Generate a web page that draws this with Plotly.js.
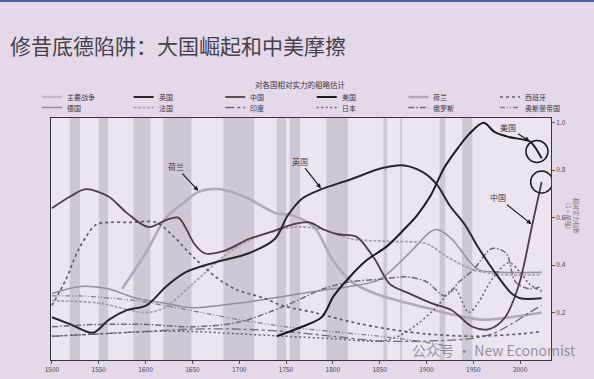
<!DOCTYPE html>
<html><head><meta charset="utf-8">
<script src="https://cdn.plot.ly/plotly-3.0.1.min.js"></script>
<style>html,body{margin:0;padding:0;background:#e3d9e9;}#chart{width:594px;height:379px;}</style>
</head><body><div id="chart"></div>
<script>
// ---------- data ----------
const ukYears   = [1500,1520,1544,1561,1580,1601,1622,1643,1673,1710,1738,1752,1767,1788,1818,1854,1876,1897,1911,1925,1941,1956,1973,1991,2000,2023];
const ukValues  = [0.18,0.15,0.115,0.17,0.21,0.23,0.31,0.37,0.41,0.45,0.51,0.61,0.68,0.72,0.76,0.81,0.82,0.79,0.74,0.65,0.57,0.47,0.37,0.28,0.26,0.26];

const cnYears   = [1500,1520,1536,1560,1580,1603,1622,1635,1652,1663,1684,1710,1734,1756,1775,1790,1805,1825,1844,1861,1882,1905,1927,1949,1967,1984,1999,2013,2023];
const cnValues  = [0.64,0.69,0.72,0.69,0.62,0.56,0.59,0.60,0.49,0.45,0.46,0.51,0.54,0.57,0.58,0.55,0.53,0.52,0.43,0.32,0.28,0.24,0.21,0.14,0.13,0.18,0.32,0.57,0.75];

const usYears   = [1740,1767,1788,1801,1818,1836,1858,1876,1890,1904,1919,1933,1945,1961,1973,1988,2002,2011,2023];
const usValues  = [0.10,0.14,0.18,0.27,0.35,0.42,0.48,0.55,0.61,0.69,0.81,0.89,0.95,1.00,0.96,0.94,0.93,0.92,0.85];

const nlYears   = [1575,1600,1622,1643,1657,1680,1710,1738,1756,1780,1800,1820,1845,1870,1900,1930,1960,1990,2023];
const nlValues  = [0.30,0.45,0.60,0.67,0.71,0.72,0.68,0.62,0.61,0.56,0.42,0.33,0.28,0.25,0.22,0.19,0.17,0.18,0.20];

const esYears   = [1500,1515,1529,1547,1561,1582,1611,1630,1652,1675,1695,1727,1745,1780,1820,1860,1900,1950,2000,2023];
const esValues  = [0.23,0.34,0.47,0.57,0.58,0.58,0.58,0.52,0.43,0.35,0.30,0.26,0.23,0.20,0.16,0.13,0.11,0.10,0.11,0.12];

const deYears   = [1500,1530,1560,1590,1620,1650,1700,1750,1800,1818,1850,1879,1904,1911,1927,1945,1956,1980,2023];
const deValues  = [0.28,0.31,0.30,0.26,0.24,0.22,0.24,0.27,0.30,0.31,0.34,0.44,0.54,0.55,0.51,0.42,0.38,0.37,0.37];

const frYears   = [1500,1550,1600,1620,1650,1688,1720,1760,1790,1820,1860,1900,1920,1950,1980,2023];
const frValues  = [0.25,0.24,0.20,0.22,0.32,0.45,0.52,0.56,0.55,0.51,0.50,0.49,0.44,0.38,0.36,0.36];

const inYears   = [1500,1550,1600,1650,1700,1750,1800,1850,1900,1947,1970,1990,2010,2023];
const inValues  = [0.10,0.11,0.12,0.13,0.13,0.12,0.10,0.08,0.08,0.09,0.11,0.15,0.20,0.23];

const jpYears   = [1500,1550,1600,1650,1700,1750,1800,1850,1870,1890,1910,1930,1945,1955,1970,1988,2000,2010,2023];
const jpValues  = [0.10,0.11,0.12,0.12,0.11,0.10,0.09,0.08,0.10,0.15,0.22,0.30,0.20,0.24,0.34,0.41,0.37,0.32,0.29];

const ruYears   = [1500,1550,1600,1650,1700,1750,1790,1820,1850,1880,1900,1920,1935,1950,1970,1985,1995,2010,2023];
const ruValues  = [0.14,0.15,0.15,0.14,0.16,0.23,0.30,0.33,0.34,0.35,0.33,0.27,0.33,0.38,0.47,0.45,0.33,0.30,0.31];

const otYears   = [1500,1530,1565,1590,1620,1660,1700,1750,1800,1850,1890,1922];
const otValues  = [0.27,0.27,0.26,0.25,0.23,0.20,0.17,0.14,0.12,0.10,0.08,0.06];

const warStart  = [1519,1550,1587,1619,1683,1740,1754,1793,1854,1872,1914,1938];
const warEnd    = [1530,1560,1605,1649,1716,1750,1765,1816,1858,1874,1920,1949];

const xTickYears  = [1500,1550,1600,1650,1700,1750,1800,1850,1900,1950,2000];
const yTickValues = [0.2,0.4,0.6,0.8,1.0];
const yTickLabels = ['0.2','0.4','0.6','0.8','1.0'];

const legendNames = ['主要战争','英国','中国','美国','荷兰','西班牙','德国','法国','印度','日本','俄罗斯','奥斯曼帝国'];

// ---------- styles ----------
const styles = {
  '主要战争': {color:'#c3bac8', width:5, dash:'solid'},
  '英国':   {color:'#2a2630', width:2.0, dash:'solid'},
  '中国':   {color:'#4d3c49', width:1.8, dash:'solid'},
  '美国':   {color:'#1d1a23', width:2.0, dash:'solid'},
  '荷兰':   {color:'#b2aab8', width:2.6, dash:'solid'},
  '西班牙': {color:'#625b68', width:1.7, dash:'dot'},
  '德国':   {color:'#958d9b', width:1.5, dash:'solid'},
  '法国':   {color:'#a59dab', width:1.7, dash:'3px,1.5px'},
  '印度':   {color:'#6f6875', width:1.3, dash:'dashdot'},
  '日本':   {color:'#676070', width:1.5, dash:'2px,2.5px'},
  '俄罗斯': {color:'#6f6875', width:1.5, dash:'6px,2px,1.5px,2px'},
  '奥斯曼帝国': {color:'#857e8b', width:1.3, dash:'5px,2px,1px,2px,1px,2px'}
};

const series = [
  {name:'英国', x:ukYears, y:ukValues},
  {name:'中国', x:cnYears, y:cnValues},
  {name:'美国', x:usYears, y:usValues},
  {name:'荷兰', x:nlYears, y:nlValues},
  {name:'西班牙', x:esYears, y:esValues},
  {name:'德国', x:deYears, y:deValues},
  {name:'法国', x:frYears, y:frValues},
  {name:'印度', x:inYears, y:inValues},
  {name:'日本', x:jpYears, y:jpValues},
  {name:'俄罗斯', x:ruYears, y:ruValues},
  {name:'奥斯曼帝国', x:otYears, y:otValues}
];

// draw order: light first, dark on top
const drawOrder = ['荷兰','德国','法国','奥斯曼帝国','印度','日本','俄罗斯','西班牙','中国','英国','美国'];
const traces = drawOrder.map(n => {
  const s = series.find(t => t.name === n);
  const st = styles[n];
  return {type:'scatter', mode:'lines', name:n, x:s.x, y:s.y,
          line:{color:st.color, width:st.width, dash:st.dash, shape:'spline', smoothing:0.9},
          hoverinfo:'skip', showlegend:false};
});

// ---------- geometry helpers (layout only) ----------
const W = 594, H = 379, M = {l:51, r:43, t:118, b:19};
const PW = W - M.l - M.r, PH = H - M.t - M.b;
const px2x = p => (p - M.l) / PW;
const py2y = p => (H - M.b - p) / PH;

const shapes = [];
// war bands
warStart.forEach((s, i) => {
  shapes.push({type:'rect', xref:'x', yref:'paper', x0:s, x1:warEnd[i], y0:0, y1:1,
               fillcolor:'rgba(150,140,158,0.33)', line:{width:0}, layer:'below'});
});
// top blue line of the slide
shapes.push({type:'rect', xref:'paper', yref:'paper', x0:px2x(0), x1:px2x(W), y0:py2y(0), y1:py2y(2),
             fillcolor:'#4a5fa6', line:{width:0}});

const annotations = [];
// custom legend (2 rows x 6 columns)
legendNames.forEach((n, i) => {
  const col = i % 6, row = Math.floor(i / 6);
  const sx = 42 + col * 91.6, sy = 97 + row * 10.5;
  const st = styles[n];
  shapes.push({type:'line', xref:'paper', yref:'paper', x0:px2x(sx), x1:px2x(sx + 20),
               y0:py2y(sy), y1:py2y(sy), line:{color:st.color, width:Math.min(st.width, 2.5), dash:st.dash}});
  annotations.push({xref:'paper', yref:'paper', x:px2x(sx + 23), y:py2y(sy), xanchor:'left', yanchor:'middle',
                    text:n, showarrow:false, font:{size:7, color:'#3a3540'}});
});

// circles at the ends of US and China
const usN = usYears.length, cnN = cnYears.length;
const usCx = (usYears[usN-1] + usYears[usN-2]) / 2 + 1;
const usCy = usValues[usN-2] + (usValues[usN-1] - usValues[usN-2]) * (usCx - usYears[usN-2]) / (usYears[usN-1] - usYears[usN-2]);
[[usCx, usCy],[cnYears[cnN-1], cnValues[cnN-1]]].forEach(c => {
  shapes.push({type:'circle', xref:'x', yref:'y', xsizemode:'pixel', ysizemode:'pixel',
               xanchor:c[0], yanchor:c[1], x0:-11, x1:11, y0:-11, y1:11,
               line:{color:'#1d1a23', width:1.5}});
});

// labelled arrows
function arrowLabel(text, xs, ys, idx, ax, ay) {
  annotations.push({x:xs[idx], y:ys[idx], xref:'x', yref:'y', text:text, showarrow:true,
                    arrowhead:2, arrowsize:0.8, arrowwidth:1.2, arrowcolor:'#1d1a23',
                    ax:ax, ay:ay, standoff:1, font:{size:8, color:'#3a3540'}});
}
arrowLabel('荷兰', nlYears, nlValues, 4, -23, -25);
arrowLabel('英国', ukYears, ukValues, 13, -22, -28);
arrowLabel('美国', usYears, usValues, 17, -22, -14);
arrowLabel('中国', cnYears, cnValues, 27, -34, -27);

// slide title, chart title, axis caption, watermark
annotations.push({xref:'paper', yref:'paper', x:px2x(8), y:py2y(45), xanchor:'left', yanchor:'middle',
                  text:'修昔底德陷阱：大国崛起和中美摩擦', showarrow:false,
                  font:{size:21, color:'#45414c', family:'Noto Sans CJK SC'}});
annotations.push({xref:'paper', yref:'paper', x:px2x(300), y:py2y(84), xanchor:'center', yanchor:'middle',
                  text:'对各国相对实力的粗略估计', showarrow:false, font:{size:7.5, color:'#3a3540'}});
annotations.push({xref:'paper', yref:'paper', x:px2x(573), y:py2y(216), xanchor:'center', yanchor:'middle',
                  text:'相对实力指数<br>（1 = 最强）', textangle:90, showarrow:false,
                  font:{size:6, color:'#77707d'}});
annotations.push({xref:'paper', yref:'paper', x:px2x(578), y:py2y(350), xanchor:'right', yanchor:'middle',
                  text:'公众号 · New Economist', showarrow:false,
                  font:{size:14, color:'rgba(120,112,128,0.75)', family:'Noto Sans CJK SC'}});

const layout = {
  width:W, height:H, margin:M,
  paper_bgcolor:'#e3d9e9', plot_bgcolor:'#ece5f0',
  font:{family:'Noto Sans CJK SC, Noto Sans, sans-serif', color:'#3a3540'},
  showlegend:false,
  xaxis:{range:[1499,2033], tickvals:xTickYears, ticks:'outside', ticklen:3, tickcolor:'#555',
         tickfont:{size:6.5, color:'#4a4550'}, showline:true, mirror:true, linecolor:'#3a3540', linewidth:1,
         showgrid:false, zeroline:false, fixedrange:true},
  yaxis:{range:[0,1.02], side:'right', tickvals:yTickValues, ticktext:yTickLabels, ticks:'outside', ticklen:3,
         tickcolor:'#555', tickfont:{size:6.5, color:'#4a4550'}, showline:true, mirror:true,
         linecolor:'#3a3540', linewidth:1, showgrid:false, zeroline:false, fixedrange:true},
  shapes:shapes, annotations:annotations
};

Plotly.newPlot('chart', traces, layout, {displayModeBar:false, staticPlot:true});
</script></body></html>
